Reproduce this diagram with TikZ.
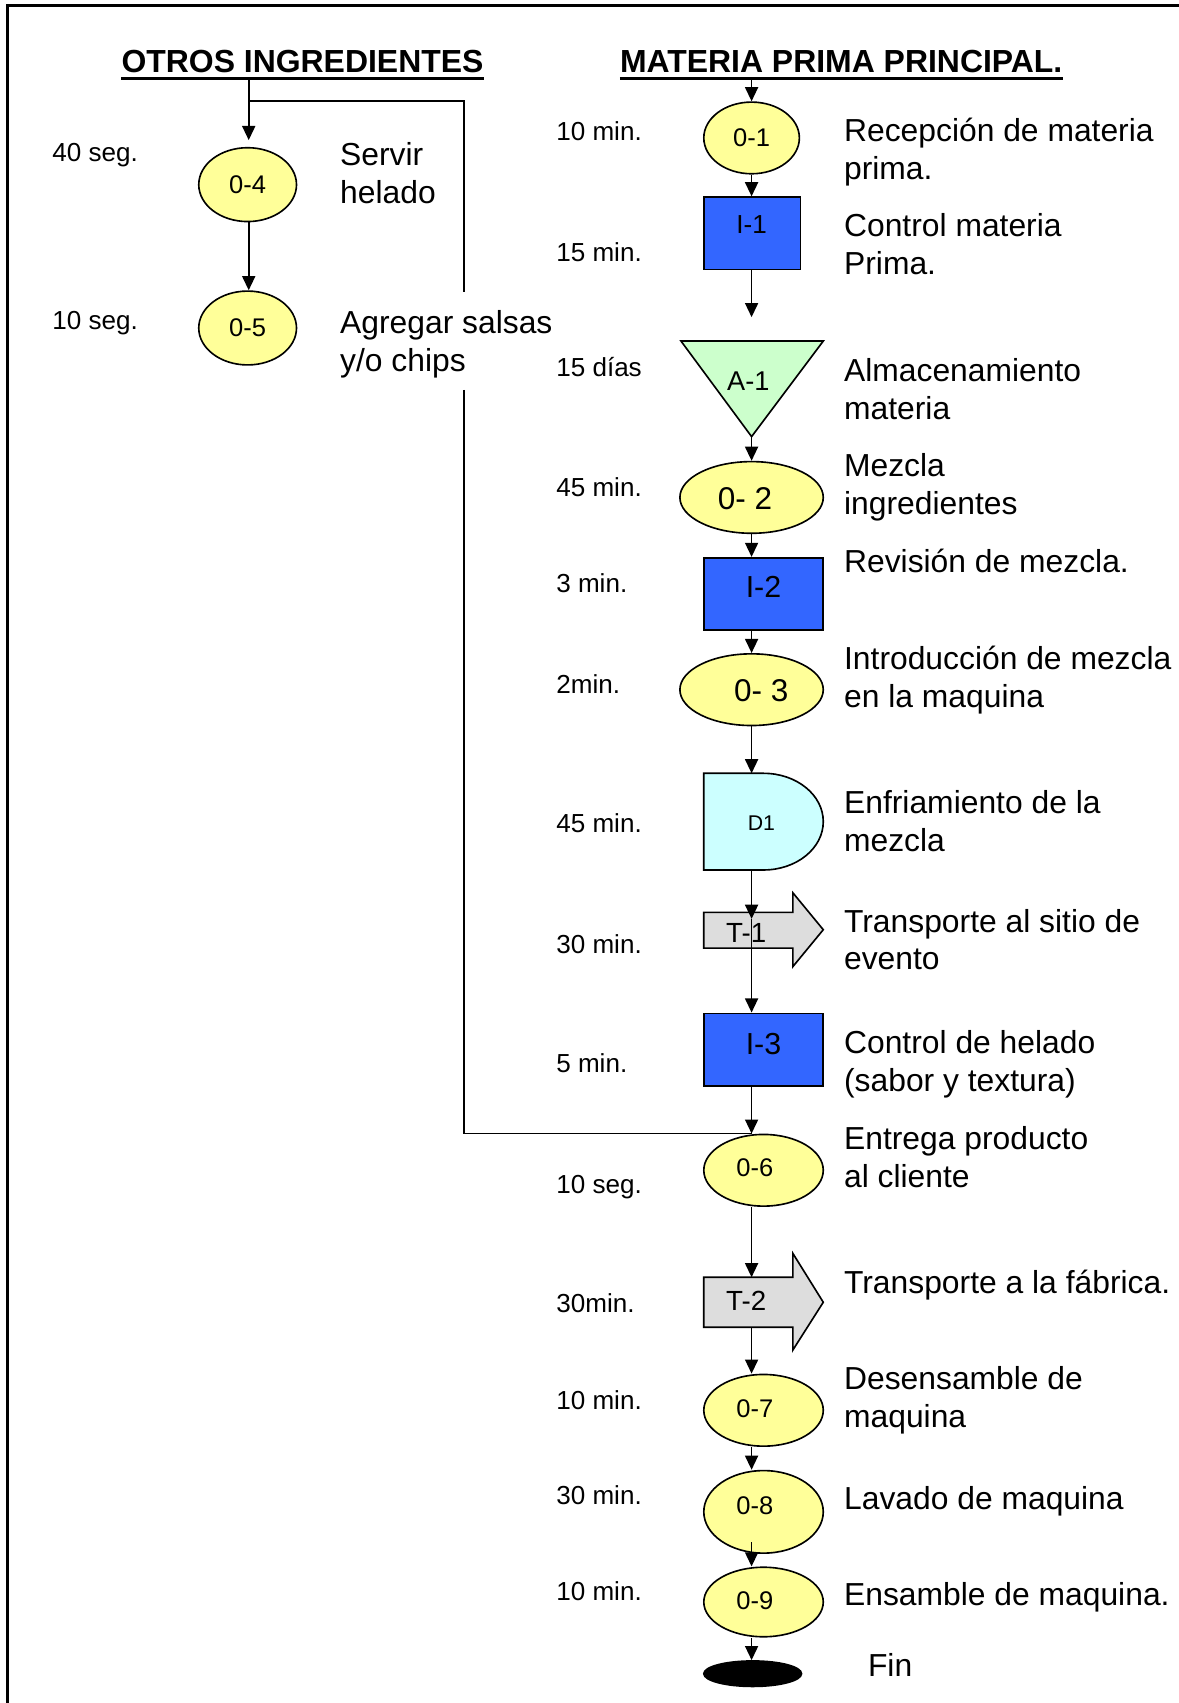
\documentclass[tikz,border=0pt]{standalone}
\usepackage{fontspec}
\setmainfont{Liberation Sans}
\usetikzlibrary{arrows.meta,shapes.geometric}
\definecolor{opyel}{HTML}{FFFF99}
\definecolor{opblue}{HTML}{3366FF}
\definecolor{opgreen}{HTML}{CCFFCC}
\definecolor{opcyan}{HTML}{CCFFFF}
\definecolor{opgray}{HTML}{DDDDDD}
\begin{document}
\begin{tikzpicture}[x=1pt,y=-1pt,
  conn/.style={line width=1.5pt},
  arr/.style={line width=1.5pt,-{Triangle[width=12pt,length=13pt]}},
  shp/.style={draw=black,line width=1.5pt},
  op/.style={shp,ellipse,fill=opyel,inner sep=0pt,font=\fontsize{23.5}{28}\selectfont},
  insp/.style={shp,rectangle,fill=opblue,inner sep=0pt},
  desc/.style={anchor=base west,inner sep=0pt,font=\fontsize{29.3}{35}\selectfont},
  tlab/.style={anchor=base west,inner sep=0pt,font=\fontsize{24}{28}\selectfont},
  lab/.style={inner sep=0pt,font=\fontsize{23.5}{28}\selectfont},
  ttl/.style={anchor=base,inner sep=0pt,font=\bfseries\fontsize{29.4}{35}\selectfont},
]
\useasboundingbox (0,0) rectangle (1085,1568);
\fill[white] (0,0) rectangle (1085,1568);
% frame
\draw[line width=2.2pt] (7,1575) -- (7,5) -- (1095,5);

\coordinate (ax) at (692,0);
\coordinate (lx) at (229,0);

% titles
\node[ttl] (t1) at (278.5,67) {OTROS INGREDIENTES};
\node[ttl] (t2) at (774.5,67) {MATERIA PRIMA PRINCIPAL.};
\coordinate (u1) at ([yshift=-5pt]t1.base);
\coordinate (u2) at ([yshift=-5pt]t2.base);
\draw[line width=3pt] ([yshift=-5pt]t1.base west) -- ([yshift=-5pt]t1.base east);
\draw[line width=3pt] ([yshift=-5pt]t2.base west) -- ([yshift=-5pt]t2.base east);

% ---------- left column ----------
\node[op,minimum width=90pt,minimum height=68pt] (o4) at (228,170) {0-4};
\node[op,minimum width=90pt,minimum height=68pt] (o5) at (228,302) {0-5};
\coordinate (o4in) at (229,129);
\coordinate (br1) at (229,93);
\coordinate (br2) at (427,269);
\coordinate (br3) at (427,359);
\draw[arr] (lx |- u1) -- (o4in);
\draw[arr] (lx |- o4.south) -- (lx |- o5.north);
\draw[conn] (br1) -| (br2);

\node[tlab] (tm04) at (48,148.5) {40 seg.};
\node[tlab] (tm05) at (48,303.5) {10 seg.};
\node[desc] (d4a) at (313,152) {Servir};
\node[desc] (d4b) at (313,187) {helado};
\node[desc] (d5a) at (313,307) {Agregar salsas};
\node[desc] (d5b) at (313,342) {y/o chips};

% ---------- main column ----------
\node[op,minimum width=88pt,minimum height=66pt] (o1) at (692,127) {0-1};
\node[insp,minimum width=89pt,minimum height=66.5pt] (i1) at (692.5,214.75) {};
\node[lab,font=\fontsize{24}{28}\selectfont] (li1) at (692,207) {I-1};

\draw[shp,fill=opgreen] (627,314) -- (758,314) -- (692,402) -- cycle;
\coordinate (a1top) at (692,314);
\coordinate (a1bot) at (692,402);
\node[lab,font=\fontsize{25}{28}\selectfont] (la1) at (689,351) {A-1};

\node[op,minimum width=132pt,minimum height=66pt] (o2) at (692,458) {};
\node[lab,font=\fontsize{29}{32}\selectfont] (lo2) at (686,459) {0- 2};
\node[insp,minimum width=110pt,minimum height=66.5pt] (i2) at (703,546.75) {};
\node[lab,font=\fontsize{28}{32}\selectfont] (li2) at (703,540) {I-2};
\node[op,minimum width=132pt,minimum height=66pt] (o3) at (692,635) {};
\node[lab,font=\fontsize{29}{32}\selectfont] (lo3) at (701,636) {0- 3};

\draw[shp,fill=opcyan] (648,712) -- (703,712) arc[start angle=90,end angle=-90,x radius=55pt,y radius=44.5pt] -- (648,801) -- cycle;
\coordinate (d1top) at (692,712);
\coordinate (d1bot) at (692,801);
\node[lab,font=\fontsize{19.6}{24}\selectfont] (ld1) at (701,758) {D1};

\draw[shp,fill=opgray] (648,840) -- (730,840) -- (730,822) -- (758,856) -- (730,890) -- (730,873) -- (648,873) -- cycle;
\node[lab,font=\fontsize{25.5}{28}\selectfont] (lt1) at (687,859) {T-1};
\coordinate (t1in) at (692,846);

\node[insp,minimum width=110pt,minimum height=67pt] (i3) at (703,966.5) {};
\node[lab,font=\fontsize{28}{32}\selectfont] (li3) at (703,961) {I-3};

\node[op,minimum width=110pt,minimum height=66pt] (o6) at (703,1077.5) {};
\node[lab] (lo6) at (695,1075) {0-6};

\draw[shp,fill=opgray] (648,1176) -- (730,1176) -- (730,1154) -- (758,1199) -- (730,1243) -- (730,1222) -- (648,1222) -- cycle;
\coordinate (t2top) at (692,1176);
\coordinate (t2bot) at (692,1222);
\node[lab,font=\fontsize{25.5}{28}\selectfont] (lt2) at (687,1198) {T-2};

\node[op,minimum width=110pt,minimum height=66pt] (o7) at (703,1298.5) {};
\node[lab] (lo7) at (695,1297) {0-7};
\node[op,minimum width=110pt,minimum height=76pt] (o8) at (703,1392) {};
\node[lab] (lo8) at (695,1386) {0-8};
\node[op,minimum width=110pt,minimum height=64pt] (o9) at (703,1475) {};
\node[lab] (lo9) at (695,1473.5) {0-9};
\node[shp,ellipse,fill=black,inner sep=0pt,minimum width=90pt,minimum height=23.5pt] (fin) at (693,1541) {};
\coordinate (o8in) at (692,1420);

% connectors main column
\draw[arr] (ax |- u2) -- (ax |- o1.north);
\draw[arr] (ax |- o1.south) -- (ax |- i1.north);
\coordinate (i1out) at (692,292);
\draw[arr] (ax |- i1.south) -- (i1out);
\draw[arr] (a1bot) -- (ax |- o2.north);
\draw[arr] (ax |- o2.south) -- (ax |- i2.north);
\draw[arr] (ax |- i2.south) -- (ax |- o3.north);
\draw[arr] (ax |- o3.south) -- (d1top);
\draw[arr] (d1bot) -- (t1in);
\draw[arr] (t1in) -- (ax |- i3.north);
\draw[arr] (ax |- i3.south) -- (ax |- o6.north);
\draw[arr] (ax |- o6.south) -- (t2top);
\draw[arr] (t2bot) -- (ax |- o7.north);
\draw[arr] (ax |- o7.south) -- (ax |- o8.north);
\draw[arr] (o8in) -- (ax |- o9.north);
\draw[arr] (ax |- o9.south) -- (ax |- fin.north);
\draw[conn] (br3) |- (ax |- o6.north);

% time labels
\node[tlab] (tm1) at (512,129.5) {10 min.};
\node[tlab] (tm2) at (512,240.5) {15 min.};
\node[tlab] (tm3) at (512,346.5) {15 días};
\node[tlab] (tm4) at (512,457.5) {45 min.};
\node[tlab] (tm5) at (512,545.5) {3 min.};
\node[tlab] (tm6) at (512,638.5) {2min.};
\node[tlab] (tm7) at (512,766.5) {45 min.};
\node[tlab] (tm8) at (512,877.5) {30 min.};
\node[tlab] (tm9) at (512,987.5) {5 min.};
\node[tlab] (tm10) at (512,1098.5) {10 seg.};
\node[tlab] (tm11) at (512,1208.5) {30min.};
\node[tlab] (tm12) at (512,1297.5) {10 min.};
\node[tlab] (tm13) at (512,1385.5) {30 min.};
\node[tlab] (tm14) at (512,1473.5) {10 min.};

% descriptions
\node[desc] (d1a) at (777,130) {Recepción de materia};
\node[desc] (d1b) at (777,165) {prima.};
\node[desc] (d2a) at (777,218) {Control materia};
\node[desc] (d2b) at (777,253) {Prima.};
\node[desc] (d3a) at (777,351) {Almacenamiento};
\node[desc] (d3b) at (777,386) {materia};
\node[desc] (d4ma) at (777,439) {Mezcla};
\node[desc] (d4mb) at (777,474) {ingredientes};
\node[desc] (d5) at (777,527) {Revisión de mezcla.};
\node[desc] (d6a) at (777,616) {Introducción de mezcla};
\node[desc] (d6b) at (777,651) {en la maquina};
\node[desc] (d7a) at (777,749) {Enfriamiento de la};
\node[desc] (d7b) at (777,784) {mezcla};
\node[desc] (d8a) at (777,859) {Transporte al sitio de};
\node[desc] (d8b) at (777,893) {evento};
\node[desc] (d9a) at (777,970) {Control de helado};
\node[desc] (d9b) at (777,1005) {(sabor y textura)};
\node[desc] (d10a) at (777,1058) {Entrega producto};
\node[desc] (d10b) at (777,1093) {al cliente};
\node[desc] (d11) at (777,1191) {Transporte a la fábrica.};
\node[desc] (d12a) at (777,1279) {Desensamble de};
\node[desc] (d12b) at (777,1314) {maquina};
\node[desc] (d13) at (777,1390) {Lavado de maquina};
\node[desc] (d14) at (777,1478) {Ensamble de maquina.};
\node[desc] (dfin) at (799,1544) {Fin};
\end{tikzpicture}
\end{document}
